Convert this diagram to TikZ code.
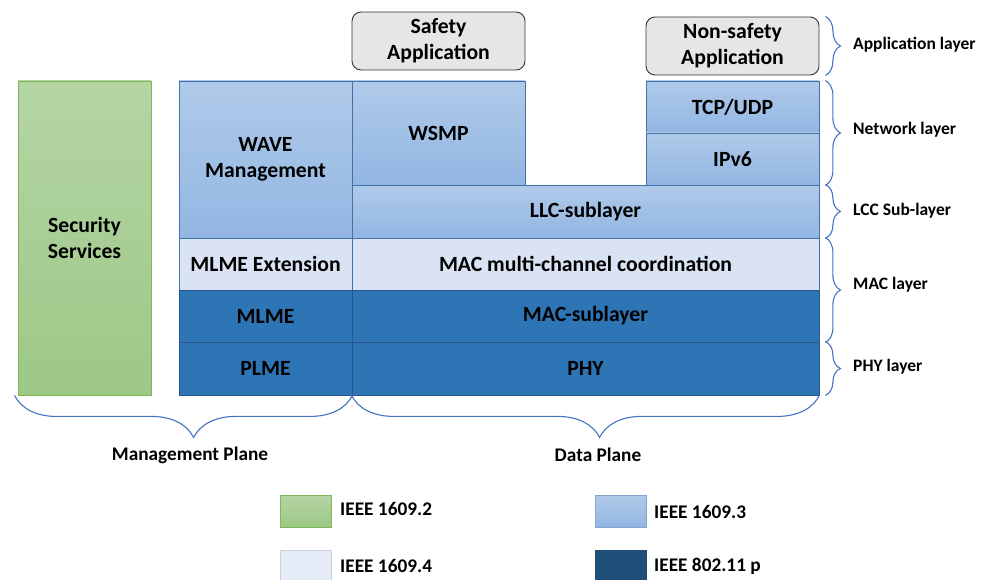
\documentclass[tikz,border=0pt]{standalone}
\usepackage{fontspec}
\setmainfont{Carlito}
\usetikzlibrary{decorations.pathreplacing}
\definecolor{grnT}{RGB}{181,213,165}
\definecolor{grnB}{RGB}{157,200,134}
\definecolor{grnLine}{RGB}{125,185,90}
\definecolor{bluT}{RGB}{176,202,233}
\definecolor{bluB}{RGB}{146,182,226}
\definecolor{bluLine}{RGB}{65,113,170}
\definecolor{paleBlu}{RGB}{218,227,243}
\definecolor{midBlu}{RGB}{46,117,182}
\definecolor{darkLine}{RGB}{40,85,140}
\definecolor{navy}{RGB}{31,78,121}
\definecolor{appGray}{RGB}{231,230,230}
\definecolor{braceBlu}{RGB}{68,114,196}

\begin{document}
\begin{tikzpicture}[x=1pt,y=1pt,yscale=-1,
  every node/.style={font=\fontsize{21.7}{26}\selectfont\bfseries, align=center, inner sep=0pt},
  std2/.style={draw=grnLine, line width=0.9pt, top color=grnT, bottom color=grnB},
  std3/.style={draw=bluLine, line width=0.8pt, top color=bluT, bottom color=bluB},
  std4/.style={draw=bluLine, line width=0.8pt, fill=paleBlu},
  std11/.style={draw=darkLine, line width=0.8pt, fill=midBlu},
  appbox/.style={draw=black!80, line width=0.9pt, fill=appGray, rounded corners=9pt},
  brc/.style={decorate, decoration={brace, amplitude=#1}, draw=braceBlu, line width=1.1pt},
  lbl/.style={font=\fontsize{17.5}{21}\selectfont\bfseries, anchor=west},
  lgd/.style={font=\fontsize{19.3}{23}\selectfont\bfseries, anchor=west}]
\useasboundingbox (0,0) rectangle (984,580);

%Shape: Rectangle
\node[std2, minimum width=133pt, minimum height=314pt] (sec) at (84.5,238) {Security\\Services};

%Shape: Rectangle (management column)
\node[std3, minimum width=173pt, minimum height=157pt] (wave) at (265.5,159.5) {WAVE\\Management};
\node[std4, minimum width=173pt, minimum height=52pt] (mlmex) at (265.5,264) {MLME Extension};
\node[std11, minimum width=173pt, minimum height=52pt] (mlme) at (265.5,316) {MLME};
\node[std11, minimum width=173pt, minimum height=53pt] (plme) at (265.5,368.5) {PLME};

%Shape: Rectangle (data column)
\node[std3, minimum width=173pt, minimum height=104pt] (wsmp) at (438.5,133) {WSMP};
\node[std3, minimum width=173pt, minimum height=52pt] (tcp) at (732.5,107) {TCP/UDP};
\node[std3, minimum width=173pt, minimum height=52pt] (ipv6) at (732.5,159) {IPv6};
\node[std3, minimum width=467pt, minimum height=53pt] (llc) at (585.5,211.5) {LLC-sublayer};
\node[std4, minimum width=467pt, minimum height=52pt] (mcc) at (585.5,264) {MAC multi-channel coordination};
\node[std11, minimum width=467pt, minimum height=52pt] (macsub) at (585.5,316) {MAC-sublayer};
\node[std11, minimum width=467pt, minimum height=53pt] (phy) at (585.5,368.5) {PHY};

%Shape: Rounded Rectangle
\node[appbox, minimum width=173pt, minimum height=58pt] (safe) at (438.5,41) {Safety\\Application};
\node[appbox, minimum width=173pt, minimum height=58pt] (nonsafe) at (732.5,46) {Non-safety\\Application};

%Braces (layers)
\draw[brc=15pt] ([xshift=6pt]nonsafe.north east) -- ([xshift=6pt]nonsafe.south east);
\draw[brc=15pt] ([xshift=6pt]tcp.north east) -- ([xshift=6pt]ipv6.south east);
\draw[brc=15pt] ([xshift=6pt]llc.north east) -- ([xshift=6pt]llc.south east);
\draw[brc=15pt] ([xshift=6pt]mcc.north east) -- ([xshift=6pt]macsub.south east);
\draw[brc=15pt] ([xshift=6pt]phy.north east) -- ([xshift=6pt]phy.south east);

% Text Node
\node[lbl] (appl) at (853,45) {Application layer};
\node[lbl] (netl) at (853,130) {Network layer};
\node[lbl] (llcl) at (853,211) {LCC Sub-layer};
\node[lbl] (macl) at (853,285) {MAC layer};
\node[lbl] (phyl) at (853,367) {PHY layer};

%Braces (planes)
\draw[brc=42pt, decoration={mirror, aspect=0.53}] ([xshift=-3pt]sec.south west) -- (plme.south east);
\draw[brc=42pt, decoration={mirror, aspect=0.53}] (phy.south west) -- (phy.south east);

% Text Node
\node[lgd, anchor=center] (mgmt) at (190,455) {Management Plane};
\node[lgd, anchor=center] (data) at (598,455) {Data Plane};

%Legend
\node[draw=grnLine, line width=1pt, top color=grnT, bottom color=grnB, minimum width=51pt, minimum height=32pt] (k2) at (305.5,511) {};
\node[lgd] (t2) at (340,509) {IEEE 1609.2};
\node[draw=paleBlu!80!gray, line width=1pt, fill=paleBlu!70!white, minimum width=51pt, minimum height=32pt] (k4) at (305.5,566) {};
\node[lgd] (t4) at (340,566) {IEEE 1609.4};
\node[draw=bluB!90!black, line width=1pt, top color=bluT, bottom color=bluB, minimum width=51pt, minimum height=32pt] (k3) at (620.5,511) {};
\node[lgd] (t3) at (654,512) {IEEE 1609.3};
\node[draw=navy, line width=1pt, fill=navy, minimum width=51pt, minimum height=32pt] (k11) at (620.5,566) {};
\node[lgd] (t11) at (654,566) {IEEE 802.11 p};

\end{tikzpicture}
\end{document}
